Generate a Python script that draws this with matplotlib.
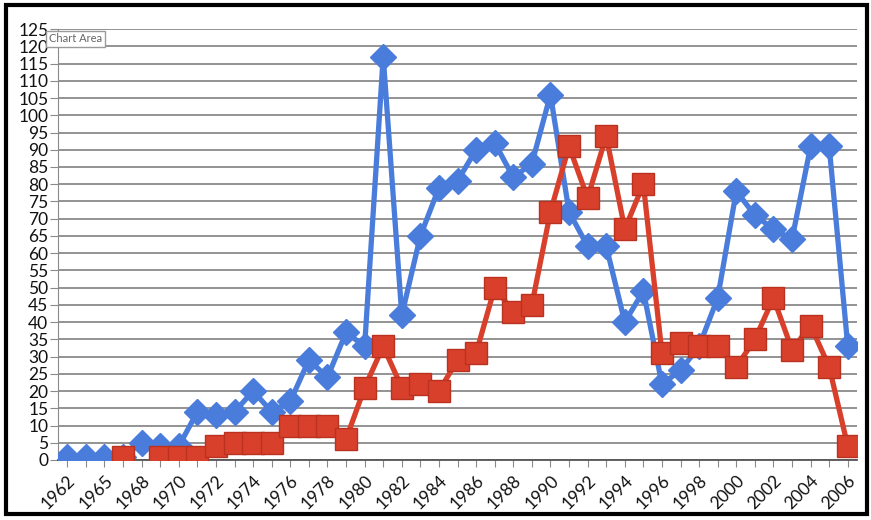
import numpy as np
import matplotlib.pyplot as plt
from matplotlib.patches import Rectangle

# categories (x axis is categorical, only every other label shown)
years = [1962, 1963, 1965, 1966, 1968, 1969, 1970, 1971, 1972, 1973, 1974,
         1975, 1976, 1977, 1978, 1979, 1980, 1981, 1982, 1983, 1984, 1985,
         1986, 1987, 1988, 1989, 1990, 1991, 1992, 1993, 1994, 1995, 1996,
         1997, 1998, 1999, 2000, 2001, 2002, 2003, 2004, 2005, 2006]

blue_vals = [1, 1, 1, 1, 5, 4, 4, 14, 13, 14, 20,
             14, 17, 29, 24, 37, 33, 117, 42, 65, 79, 81,
             90, 92, 82, 86, 106, 72, 62, 62, 40, 49, 22,
             26, 33, 47, 78, 71, 67, 64, 91, 91, 33]

red_vals = [None, None, None, 1, None, 1, 1, 1, 4, 5, 5,
            5, 10, 10, 10, 6, 21, 33, 21, 22, 20, 29,
            31, 50, 43, 45, 72, 91, 76, 94, 67, 80, 31,
            34, 33, 33, 27, 35, 47, 32, 39, 27, 4]

blue = '#4a7ddb'
red = '#d9402c'

x = np.arange(len(years))
red_arr = np.array([np.nan if v is None else v for v in red_vals], dtype=float)

fig = plt.figure(figsize=(8.71, 5.2), dpi=100)
ax = fig.add_axes([0.0666, 0.1154, 0.9174, 0.8286])

ax.set_ylim(0, 125)
ax.set_xlim(-0.5, len(years) - 0.5)
ax.set_yticks(np.arange(0, 126, 5))
ax.yaxis.grid(True, color='#8a8a8a', linewidth=1.3)
ax.set_axisbelow(True)

ax.plot(x, blue_vals, color=blue, linewidth=3.8, marker='D', markersize=13,
        markerfacecolor=blue, markeredgecolor=blue, zorder=3)
ax.plot(x, red_arr, color=red, linewidth=3.8, marker='s', markersize=15.5,
        markerfacecolor=red, markeredgecolor='#b8321f', zorder=4)

ax.set_xticks(x)
ax.set_xticklabels([str(y) if i % 2 == 0 else '' for i, y in enumerate(years)],
                   rotation=45, ha='right', rotation_mode='anchor',
                   fontsize=12.5, family='Lato', color='#111111')
for lab in ax.get_yticklabels():
    lab.set_fontsize(12.5)
    lab.set_family('Lato')
    lab.set_color('#111111')
ax.tick_params(axis='y', length=6, color='#8a8a8a', pad=1)
ax.tick_params(axis='x', length=5, color='#8a8a8a', pad=4)

for side in ['top', 'right']:
    ax.spines[side].set_visible(False)
ax.spines['left'].set_color('#8a8a8a')
ax.spines['bottom'].set_color('#555555')
ax.spines['bottom'].set_linewidth(1.3)

# outer frame and "Chart Area" tooltip
fig.patches.append(Rectangle((0.007, 0.012), 0.988, 0.978, transform=fig.transFigure,
                             fill=False, edgecolor='black', linewidth=3))
fig.text(0.056, 0.925, 'Chart Area', fontsize=8, color='#666666', family='Lato',
         va='center', ha='left', zorder=10,
         bbox=dict(boxstyle='square,pad=0.25', facecolor='white', edgecolor='#9a9a9a'))

fig.savefig('out.png', dpi=100)
